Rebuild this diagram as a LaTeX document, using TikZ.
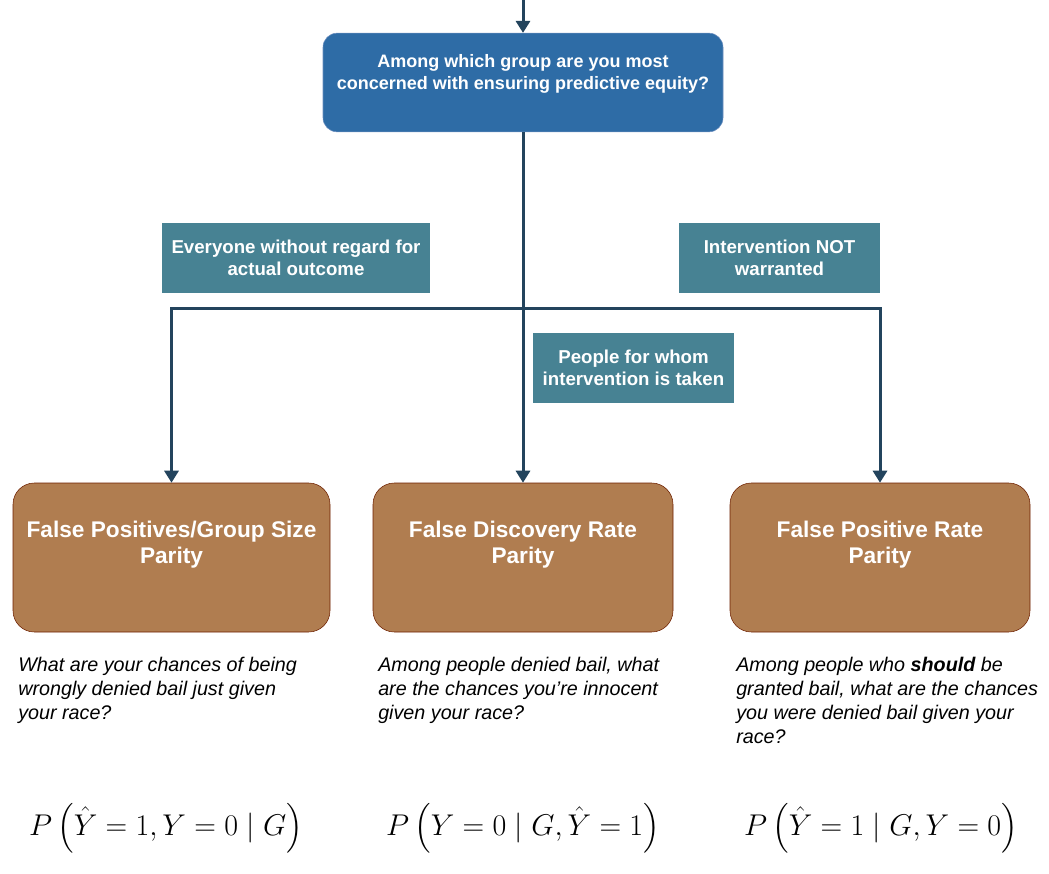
\RequirePackage{fix-cm}
\documentclass[tikz,border=0pt]{standalone}
\usepackage[no-math]{fontspec}
\setmainfont{Liberation Sans}
\usepackage{amsmath}
\usetikzlibrary{arrows.meta,positioning}
\definecolor{qblue}{HTML}{2E6CA6}
\definecolor{qborder}{HTML}{6C8EBF}
\definecolor{tealfill}{HTML}{478293}
\definecolor{edgecol}{HTML}{23445D}
\definecolor{brownfill}{HTML}{B07D50}
\definecolor{brownline}{HTML}{6D1F00}

\begin{document}
\begin{tikzpicture}[x=0.75pt, y=-0.75pt,
    qbox/.style={draw=qborder, fill=qblue, rounded corners=10.5pt,
                 minimum width=300pt, minimum height=74pt},
    qtext/.style={text=white, align=center, font=\fontsize{13.5}{16.5}\selectfont\bfseries},
    catbox/.style={fill=tealfill, minimum width=#1, minimum height=52.5pt,
                   text=white, align=center, inner sep=0pt,
                   font=\fontsize{14}{16.5}\selectfont\bfseries},
    paritybox/.style={draw=brownline, fill=brownfill, rounded corners=16pt,
                      minimum width=#1, minimum height=111.75pt},
    paritytext/.style={text=white, align=center, font=\fontsize{17}{20}\selectfont\bfseries},
    caption/.style={anchor=north west, align=left, inner sep=0pt,
                    font=\fontsize{14.8}{18}\selectfont\itshape},
    formula/.style={font=\fontsize{22.5}{27}\selectfont},
    flow/.style={draw=edgecol, line width=2.25pt,
                 -{Triangle[width=10.5pt, length=9pt]}},
]
\useasboundingbox (0,0) rectangle (1049,874);

% Question
\node[qbox] (question) at (523,82.5) {};
\node[qtext] (questionlbl) at ([yshift=6.4pt]question.center)
    {Among which group are you most\\concerned with ensuring predictive equity?};
\coordinate (entry) at (523,-10);
\draw[flow] (entry) -- (question);

% Parity notions
\node[paritybox=237.75pt] (fpgs) at (171.5,557.5) {};
\node[paritybox=225pt]    (fdr)  at (523,557.5) {};
\node[paritybox=225pt]    (fpr)  at (880,557.5) {};
\node[paritytext] (fpgslbl) at ([yshift=9.75pt]fpgs.center) {False Positives/Group Size\\Parity};
\node[paritytext] (fdrlbl)  at ([yshift=9.75pt]fdr.center)  {False Discovery Rate\\Parity};
\node[paritytext] (fprlbl)  at ([yshift=9.75pt]fpr.center)  {False Positive Rate\\Parity};

% Branches
\coordinate (split) at (523,308);
\draw[flow] (question) -- (fdr);
\draw[flow] (split) -| (fpgs);
\draw[flow] (split) -| (fpr);

% Group labels
\node[catbox=201pt]    (everyone)  at (296,258)   {Everyone without regard for\\actual outcome};
\node[catbox=150.75pt] (notwarr)   at (779.5,258) {Intervention NOT\\warranted};
\node[catbox=150.75pt] (intervene) at (633.5,368) {People for whom\\intervention is taken};

% Questions in words
\node[caption] (fpgsq) at (18,657)
    {What are your chances of being\\wrongly denied bail just given\\your race?};
\node[caption] (fdrq) at (378,657)
    {Among people denied bail, what\\are the chances you're innocent\\given your race?};
\node[caption] (fprq) at (736,657)
    {Among people who \textbf{should} be\\granted bail, what are the chances\\you were denied bail given your\\race?};

% Formulas
\node[formula] (fpgsf) at (166,828) {$P\,\Bigl(\hat{Y}=1,Y=0\mid G\Bigr)$};
\node[formula] (fdrf)  at (523,828) {$P\,\Bigl(Y=0\mid G,\hat{Y}=1\Bigr)$};
\node[formula] (fprf)  at (881,828) {$P\,\Bigl(\hat{Y}=1\mid G,Y=0\Bigr)$};

\end{tikzpicture}
\end{document}
